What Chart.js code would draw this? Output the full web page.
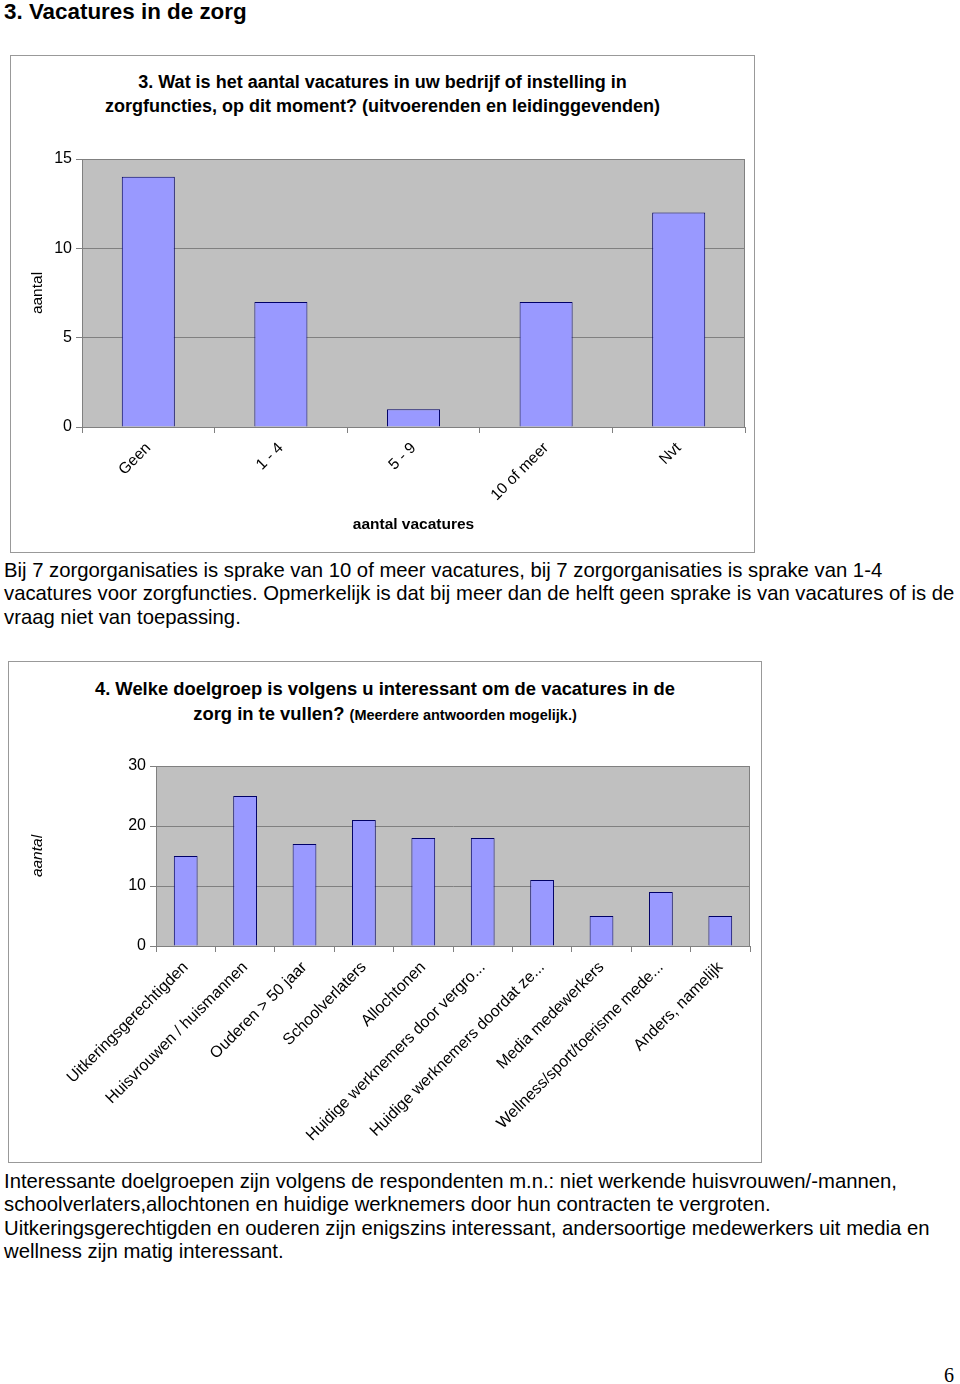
<!DOCTYPE html>
<html>
<head>
<meta charset="utf-8">
<script src="https://cdn.jsdelivr.net/npm/chart.js@4"></script>
<style>
  body { margin: 0; width: 960px; height: 1384px; position: relative; background: #fff;
         font-family: "Liberation Sans", Arial, sans-serif; color: #000; }
  .abs { position: absolute; }
  h1 { position: absolute; left: 4px; top: -1px; margin: 0; font-size: 22.4px; line-height: 26px; font-weight: bold; }
  .box { position: absolute; border: 1px solid #999; box-sizing: border-box; }
  .ctitle { position: absolute; left: 0; width: 100%; text-align: center; font-weight: bold; white-space: nowrap; }
  .para { position: absolute; left: 4px; font-size: 20.3px; line-height: 23.4px; white-space: nowrap; }
</style>
</head>
<body>
<h1>3. Vacatures in de zorg</h1>

<div class="box" style="left:10px; top:55px; width:745px; height:498px;">
  <div class="ctitle" style="top:14px; font-size:18px; line-height:24px;">
    3. Wat is het aantal vacatures in uw bedrijf of instelling in<br>
    zorgfuncties, op dit moment? (uitvoerenden en leidinggevenden)
  </div>
</div>
<canvas id="grafica1" class="abs" style="left:10px; top:140px;"></canvas>

<div class="para" style="top:559px;">
Bij 7 zorgorganisaties is sprake van 10 of meer vacatures, bij 7 zorgorganisaties is sprake van 1-4<br>
vacatures voor zorgfuncties. Opmerkelijk is dat bij meer dan de helft geen sprake is van vacatures of is de<br>
vraag niet van toepassing.
</div>

<div class="box" style="left:8px; top:661px; width:754px; height:502px;">
  <div class="ctitle" style="top:14px; font-size:18.4px; line-height:25px;">
    4. Welke doelgroep is volgens u interessant om de vacatures in de<br>
    zorg in te vullen? <span style="font-size:14.5px;">(Meerdere antwoorden mogelijk.)</span>
  </div>
</div>
<canvas id="grafica2" class="abs" style="left:8px; top:740px;"></canvas>

<div class="para" style="top:1170px;">
Interessante doelgroepen zijn volgens de respondenten m.n.: niet werkende huisvrouwen/-mannen,<br>
schoolverlaters,allochtonen en huidige werknemers door hun contracten te vergroten.<br>
Uitkeringsgerechtigden en ouderen zijn enigszins interessant, andersoortige medewerkers uit media en<br>
wellness zijn matig interessant.
</div>

<div class="abs" style="left:944px; top:1362px; font-family:'Liberation Serif','DejaVu Serif',serif; font-size:20px; line-height:26px;">6</div>

<script>
// Grafica 1: aantal vacatures
const categoriasVacatures = ['Geen', '1 - 4', '5 - 9', '10 of meer', 'Nvt'];
const aantalVacatures = [14, 7, 1, 7, 12];
const ticksVacatures = [0, 5, 10, 15];

// Grafica 2: doelgroepen
const categoriasDoelgroep = [
  'Uitkeringsgerechtigden',
  'Huisvrouwen / huismannen',
  'Ouderen > 50 jaar',
  'Schoolverlaters',
  'Allochtonen',
  'Huidige werknemers door vergro...',
  'Huidige werknemers doordat ze...',
  'Media medewerkers',
  'Wellness/sport/toerisme mede...',
  'Anders, namelijk'
];
const aantalDoelgroep = [15, 25, 17, 21, 18, 18, 11, 5, 9, 5];
const ticksDoelgroep = [0, 10, 20, 30];

const fuente = "'Liberation Sans', Arial, sans-serif";

// fondo gris y borde del area de la grafica
const fondoPlot = {
  id: 'fondoPlot',
  beforeDraw(chart) {
    const { ctx, chartArea: a } = chart;
    ctx.save();
    ctx.fillStyle = '#c0c0c0';
    ctx.fillRect(a.left, a.top, a.right - a.left, a.bottom - a.top);
    ctx.restore();
  },
  beforeDatasetsDraw(chart) {
    const { ctx, chartArea: a } = chart;
    ctx.save();
    ctx.strokeStyle = '#808080';
    ctx.lineWidth = 1;
    ctx.strokeRect(a.left + 0.5, a.top + 0.5, a.right - a.left - 1, a.bottom - a.top);
    ctx.restore();
  }
};

function crearGrafica(id, w, h, labels, data, ticks, opts) {
  const canvas = document.getElementById(id);
  canvas.width = w; canvas.height = h;
  canvas.style.width = w + 'px'; canvas.style.height = h + 'px';
  return new Chart(canvas.getContext('2d'), {
    type: 'bar',
    data: {
      labels: labels,
      datasets: [{
        data: data,
        backgroundColor: '#9999ff',
        borderColor: '#000066',
        borderWidth: 1,
        categoryPercentage: 1,
        barPercentage: 0.4
      }]
    },
    options: {
      responsive: false,
      animation: false,
      devicePixelRatio: 1,
      layout: { padding: { top: opts.top, right: opts.right, left: 0, bottom: 0 } },
      plugins: { legend: { display: false }, tooltip: { enabled: false } },
      scales: {
        x: {
          afterFit(scale) { scale.height = opts.xHeight; },
          grid: { drawOnChartArea: false, drawTicks: true, tickLength: 6, color: '#808080' },
          border: { display: true, color: '#808080' },
          ticks: {
            color: '#000', autoSkip: false, maxRotation: 45, minRotation: 45, padding: 6,
            font: { family: fuente, size: opts.xFont }
          },
          title: opts.xTitle ? {
            display: true, text: opts.xTitle, color: '#000',
            font: { family: fuente, size: 15.5, weight: 'bold' },
            padding: { top: 0, bottom: 16 }
          } : { display: false }
        },
        y: {
          min: ticks[0], max: ticks[ticks.length - 1],
          afterFit(scale) { scale.width = opts.yWidth; },
          afterBuildTicks(scale) { scale.ticks = ticks.map(v => ({ value: v })); },
          grid: { color: '#808080', tickLength: 6 },
          border: { display: true, color: '#808080' },
          ticks: { color: '#000', padding: 4, font: { family: fuente, size: 16 } },
          title: {
            display: true, text: 'aantal', color: '#000',
            font: { family: fuente, size: 15.5, style: opts.yItalic ? 'italic' : 'normal' },
            padding: { top: opts.yTitlePad, bottom: 0 }
          }
        }
      }
    },
    plugins: [fondoPlot]
  });
}

crearGrafica('grafica1', 745, 410, categoriasVacatures, aantalVacatures, ticksVacatures, {
  top: 19, right: 10, xHeight: 123, yWidth: 72, xTitle: 'aantal vacatures', yItalic: false, yTitlePad: 18, xFont: 15.5
});

crearGrafica('grafica2', 754, 420, categoriasDoelgroep, aantalDoelgroep, ticksDoelgroep, {
  top: 26, right: 12, xHeight: 214, yWidth: 148, xTitle: null, yItalic: true, yTitlePad: 20, xFont: 16
});
</script>
</body>
</html>
